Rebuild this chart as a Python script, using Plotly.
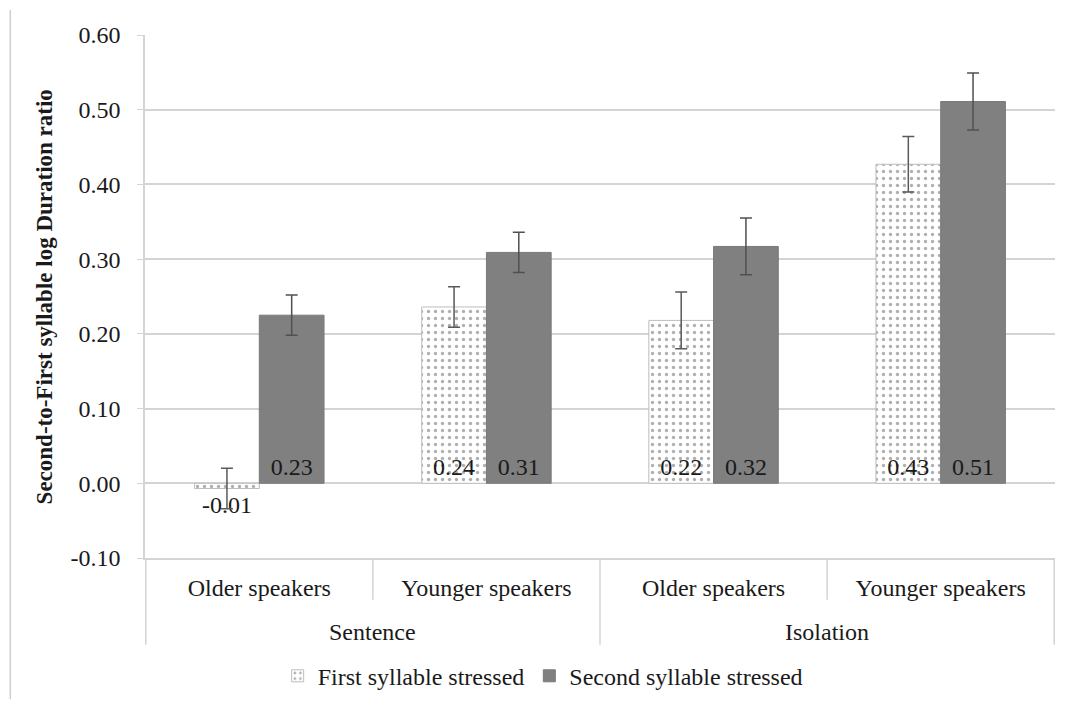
import plotly.graph_objects as go

groups = ["Sentence", "Sentence", "Isolation", "Isolation"]
speakers = ["Older speakers", "Younger speakers", "Older speakers", "Younger speakers"]
first_vals = [-0.007, 0.236, 0.218, 0.427]
first_err = [0.027, 0.027, 0.038, 0.037]
second_vals = [0.225, 0.309, 0.317, 0.511]
second_err = [0.027, 0.027, 0.038, 0.038]
series_names = ["First syllable stressed", "Second syllable stressed"]
y_ticks = [-0.1, 0.0, 0.1, 0.2, 0.3, 0.4, 0.5, 0.6]
y_ticktext = ["-0.10", "0.00", "0.10", "0.20", "0.30", "0.40", "0.50", "0.60"]
y_title = "Second-to-First syllable log Duration ratio"

FONT = "Liberation Serif"
TXT = "#1a1a1a"
GRID = "#d4d4d4"

keys = [f"{g}|{s}" for g, s in zip(groups, speakers)]

def positions(vals):
    return ["outside" if v < 0 else "inside" for v in vals]

def labels(vals):
    return [f"{v:.2f}" for v in vals]

fig = go.Figure()
fig.add_trace(go.Bar(
    x=keys, y=first_vals, name=series_names[0],
    marker=dict(color="white", line=dict(color="#bdbdbd", width=1),
                pattern=dict(shape=".", fgcolor="#606060", bgcolor="white", size=7, solidity=0.18)),
    error_y=dict(type="data", array=first_err, color="#5a5a5a", thickness=1.5, width=6),
    text=labels(first_vals), texttemplate="%{text}", textposition=positions(first_vals),
    insidetextanchor="start",
    textfont=dict(family=FONT, size=24, color=TXT), cliponaxis=False,
))
fig.add_trace(go.Bar(
    x=keys, y=second_vals, name=series_names[1],
    marker=dict(color="#808080", line=dict(color="#7a7a7a", width=1)),
    error_y=dict(type="data", array=second_err, color="#505050", thickness=1.5, width=6),
    text=labels(second_vals), texttemplate="%{text}", textposition=positions(second_vals),
    insidetextanchor="start",
    textfont=dict(family=FONT, size=24, color=TXT), cliponaxis=False,
))

# category boundary dividers (inner short, outer long) and group labels
shapes = [dict(type="line", xref="paper", yref="paper", x0=-0.148, x1=-0.148,
               y0=-0.27, y1=1.048, line=dict(color="#cfcfcf", width=1.5))]
n = len(keys)
for i in range(n + 1):
    b = i - 0.5
    outer = i == 0 or i == n or groups[i] != groups[i - 1]
    shapes.append(dict(type="line", xref="x", yref="paper", x0=b, x1=b, y0=0,
                       y1=-0.166 if outer else -0.080,
                       line=dict(color=GRID, width=1.5)))

annotations = [dict(text="<b>" + y_title + "</b>", xref="paper", yref="paper",
                    x=-0.11, y=0.5, xanchor="center", yanchor="middle", textangle=-90,
                    showarrow=False, font=dict(family=FONT, size=23, color=TXT))]
seen = []
for g in groups:
    if g not in seen:
        seen.append(g)
        idx = [i for i, gg in enumerate(groups) if gg == g]
        annotations.append(dict(text=g, xref="x", yref="paper", x=sum(idx) / len(idx),
                                y=-0.1415, xanchor="center", yanchor="middle", showarrow=False,
                                font=dict(family=FONT, size=24, color=TXT)))

fig.update_layout(
    width=1061, height=699,
    margin=dict(l=137, r=14, t=27, b=149, autoexpand=False),
    paper_bgcolor="white", plot_bgcolor="white",
    barmode="group", bargap=0.43, bargroupgap=0,
    font=dict(family=FONT, size=24, color=TXT),
    showlegend=True,
    legend=dict(orientation="h", x=0.437, xanchor="center", y=-0.226, yanchor="middle",
                font=dict(family=FONT, size=24, color=TXT), itemwidth=30, traceorder="normal"),
    xaxis=dict(type="category", tickvals=keys, ticktext=speakers, showgrid=False,
               showline=True, linecolor=GRID, linewidth=1.5, ticks="", ticklabelstandoff=7,
               tickfont=dict(family=FONT, size=24, color=TXT), automargin=False),
    yaxis=dict(range=[-0.1, 0.6], tickvals=y_ticks, ticktext=y_ticktext, showgrid=True,
               gridcolor=GRID, gridwidth=1.5, zeroline=False, showline=True, linecolor=GRID,
               linewidth=1.5, ticks="outside", ticklen=6, tickcolor=GRID, ticklabelstandoff=12,
               tickfont=dict(family=FONT, size=24, color=TXT), automargin=False),
    annotations=annotations,
    shapes=shapes,
)

fig.write_html("out.html")
